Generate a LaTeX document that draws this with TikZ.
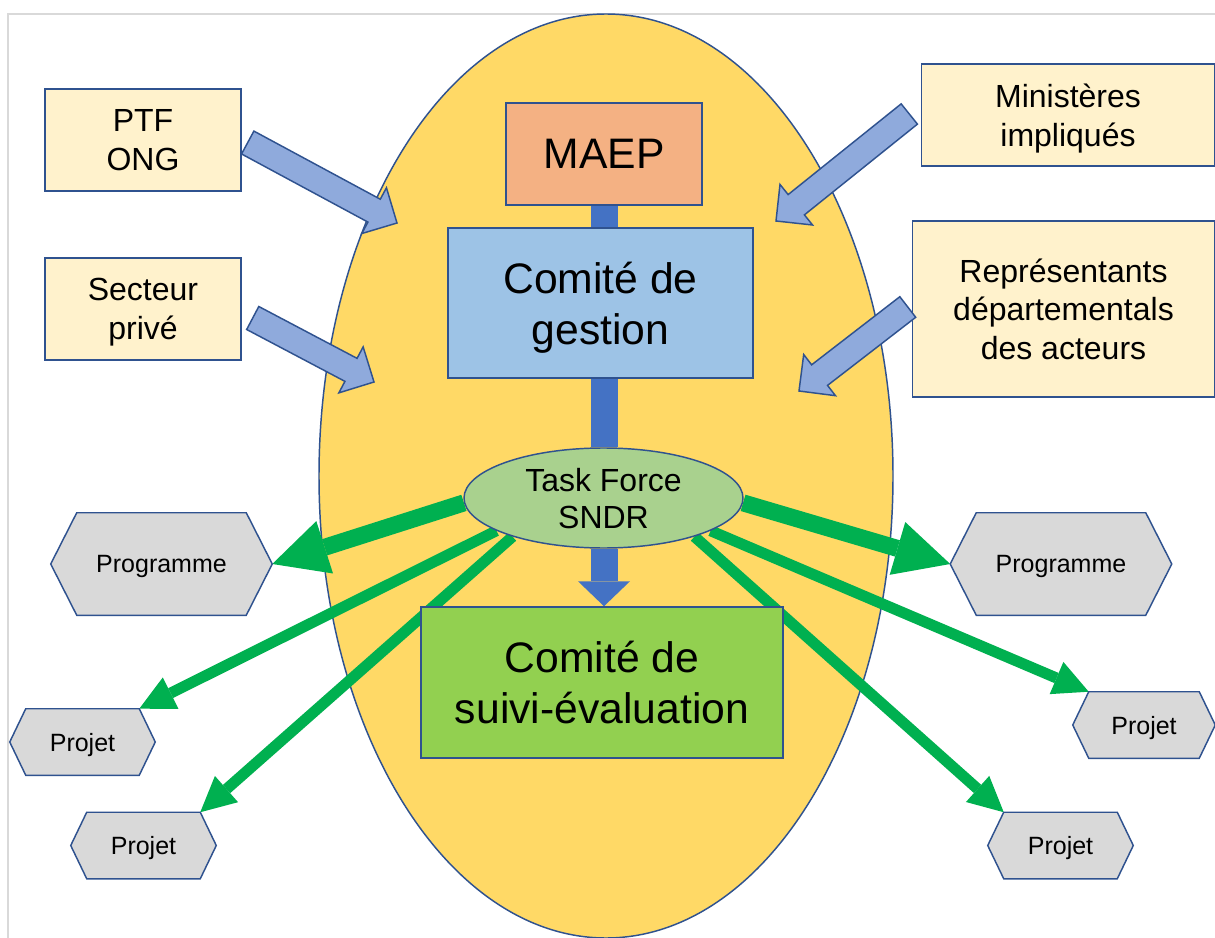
\documentclass[tikz,border=0pt]{standalone}
\usepackage{fontspec}
\setmainfont{Liberation Sans}
\usetikzlibrary{calc,arrows.meta,shapes.geometric}
\definecolor{frameg}{HTML}{D9D9D9}
\definecolor{gold}{HTML}{FFD966}
\definecolor{outl}{HTML}{2F528F}
\definecolor{cream}{HTML}{FFF2CC}
\definecolor{maepc}{HTML}{F4B183}
\definecolor{cgc}{HTML}{9DC3E6}
\definecolor{csc}{HTML}{92D050}
\definecolor{tfc}{HTML}{A9D18E}
\definecolor{hexc}{HTML}{D9D9D9}
\definecolor{barc}{HTML}{4472C4}
\definecolor{barrowc}{HTML}{8FAADC}
\definecolor{grn}{HTML}{00B050}
\pgfdeclarelayer{back}
\pgfdeclarelayer{mid}
\pgfsetlayers{back,mid,main}
\tikzset{
  box/.style={draw=outl, line width=1.1pt, inner sep=0pt, align=center, text depth=0pt},
  txtS/.style={font=\fontsize{18.75pt}{22pt}\selectfont, text depth=0pt},
  txtM/.style={font=\fontsize{24pt}{29pt}\selectfont, align=center},
  txtL/.style={font=\fontsize{32pt}{38pt}\selectfont, align=center},
  hexst/.style={draw=outl, fill=hexc, line width=1.1pt, line join=miter},
  barrowst/.style={draw=outl, fill=barrowc, line width=1.1pt, line join=miter},
  bluebar/.style={draw=barc, line width=20.25pt},
  bluearrow/.style={draw=barc, line width=20.25pt, -{Triangle[length=18.75pt,width=39pt,line width=0pt]}},
  gthick/.style={draw=grn, line width=12.75pt, -{Triangle[length=41.25pt,width=41.25pt,line width=0pt]}},
  gthin/.style={draw=grn, line width=8.25pt, -{Triangle[length=26.25pt,width=26.25pt,line width=0pt]}}
}
\newcommand\hexbox[6]{%
  \node[minimum width=#3, minimum height=#4, inner sep=0pt] (#1) at (#2) {};
  \draw[hexst] (#1.west) -- ([xshift=#5]#1.north west) -- ([xshift=-#5]#1.north east) -- (#1.east) -- ([xshift=-#5]#1.south east) -- ([xshift=#5]#1.south west) -- cycle;
  \node[txtS] (#1l) at (#1) {#6};
}
\newcommand\blockarr[3]{%
  \coordinate (#3h) at ($(#2)!19.5pt!(#1)$);
  \draw[barrowst] ($(#1)!9.75pt!90:(#2)$) -- ($(#3h)!9.75pt!90:(#2)$) -- ($(#3h)!19.5pt!90:(#2)$) -- (#2) -- ($(#3h)!19.5pt!-90:(#2)$) -- ($(#3h)!9.75pt!-90:(#2)$) -- ($(#1)!9.75pt!-90:(#2)$) -- cycle;
}
\begin{document}
\begin{tikzpicture}[x=0.75pt,y=-0.75pt]
\useasboundingbox (0,0) rectangle (1215,938);
\begin{pgfonlayer}{back}
  \fill[white] (0,0) rectangle (1215,938);
  \draw[draw=frameg, line width=1.5pt] (8,938) -- (8,14) -- (1215,14);
  \node[ellipse, draw=outl, fill=gold, line width=1.1pt, minimum width=430.5pt, minimum height=693pt, inner sep=0pt] (bg) at (606,476) {};
\end{pgfonlayer}

% outer boxes
\node[box, fill=cream, minimum width=147pt, minimum height=76.5pt, txtM] (ptf) at (143,140) {PTF\\ONG};
\node[box, fill=cream, minimum width=147pt, minimum height=76.5pt, txtM] (sp) at (143,309) {Secteur\\privé};
\node[box, fill=cream, minimum width=219.75pt, minimum height=76.5pt, txtM] (min) at (1068,115) {Ministères\\impliqués};
\node[box, fill=cream, minimum width=226.5pt, minimum height=132pt, txtM] (rep) at (1063.5,309) {Représentants\\départementals\\des acteurs};

% central boxes
\node[box, fill=maepc, minimum width=147pt, minimum height=76.5pt, txtL] (maep) at (604,154) {MAEP};
\node[box, fill=cgc, minimum width=228.75pt, minimum height=112.5pt, txtL] (cg) at (600.5,303) {Comité de\\gestion};
\node[box, fill=csc, minimum width=271.5pt, minimum height=113.25pt, txtL] (cs) at (602,682.5) {Comité de\\suivi-évaluation};
\node[ellipse, draw=outl, fill=tfc, line width=1.1pt, minimum width=209.25pt, minimum height=75pt, inner sep=0pt, align=center, text depth=0pt, font=\fontsize{24pt}{27.75pt}\selectfont] (tf) at (603.5,498) {Task Force\\SNDR};

% hexagons
\hexbox{prgL}{161.5,564}{165.75pt}{76.5pt}{19.5pt}{Programme}
\hexbox{prgR}{1061,564}{165.75pt}{76.5pt}{19.5pt}{Programme}
\hexbox{pjL1}{82.5,742}{108.75pt}{49.5pt}{12pt}{Projet}
\hexbox{pjL2}{143.5,845.5}{108.75pt}{49.5pt}{12pt}{Projet}
\hexbox{pjR1}{1144,725}{106.5pt}{49.5pt}{12pt}{Projet}
\hexbox{pjR2}{1060.5,845.5}{108.75pt}{49.5pt}{12pt}{Projet}

% block arrows
\coordinate (a1t) at ([xshift=4.5pt,yshift=-1.9pt]ptf.east);
\coordinate (a1p) at (397,223);
\blockarr{a1t}{a1p}{a1}
\coordinate (a2t) at ([xshift=8.25pt,yshift=-6.75pt]sp.east);
\coordinate (a2p) at (374,382);
\blockarr{a2t}{a2p}{a2}
\coordinate (a3t) at ([xshift=-8.6pt,yshift=0.75pt]min.west);
\coordinate (a3p) at (776,221);
\blockarr{a3t}{a3p}{a3}
\coordinate (a4t) at ([xshift=-3pt,yshift=1.5pt]rep.west);
\coordinate (a4p) at (799,391);
\blockarr{a4t}{a4p}{a4}

\begin{pgfonlayer}{mid}
  \draw[bluebar] (maep.south) -- (maep.south |- cg.north);
  \draw[bluebar] (maep.south |- cg.south) -- (maep.south |- tf.north);
  \draw[bluearrow] (maep.south |- tf.south) -- (maep.south |- cs.north);
  \draw[gthick] (tf.182) -- (prgL.east);
  \draw[gthick] (tf.-2) -- (prgR.west);
  \draw[gthin] (tf.197) -- ([xshift=-12pt]pjL1.north east);
  \draw[gthin] (tf.203) -- ([xshift=-12pt]pjL2.north east);
  \draw[gthin] (tf.-17) -- ([xshift=12pt]pjR1.north west);
  \draw[gthin] (tf.-23) -- ([xshift=12pt]pjR2.north west);
\end{pgfonlayer}
\end{tikzpicture}
\end{document}
